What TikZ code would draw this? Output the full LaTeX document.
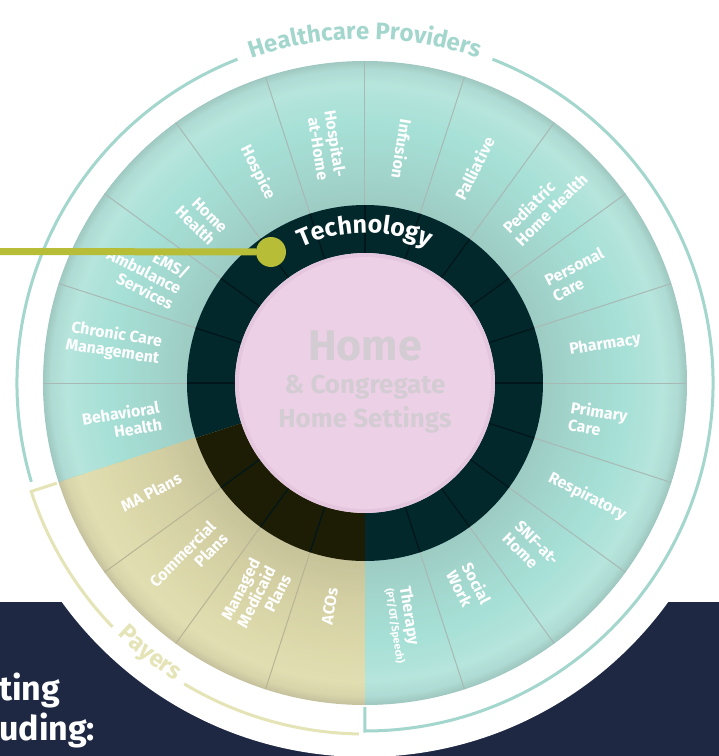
\documentclass[tikz,border=0pt]{standalone}
\usepackage{fontspec}
\setmainfont{Fira Sans}
\usetikzlibrary{decorations.text}
\definecolor{navyc}{HTML}{1F2843}
\definecolor{hpc}{HTML}{A3D6CC}
\definecolor{payc}{HTML}{E4E4B6}
\definecolor{ringdark}{HTML}{02282C}
\definecolor{ringpay}{HTML}{1C1D04}
\definecolor{ringline}{HTML}{00161A}
\definecolor{pinkc}{HTML}{ECD0E6}
\definecolor{pinkedge}{HTML}{E4C6DE}
\definecolor{hometext}{HTML}{D4CCD3}
\definecolor{olivec}{HTML}{B7BD37}
\definecolor{divc}{HTML}{A8B9B5}
\definecolor{divpay}{HTML}{B8B494}
\definecolor{tA}{HTML}{9DCBC3}
\definecolor{tB}{HTML}{A2D6CD}
\definecolor{tC}{HTML}{A6E0D6}
\definecolor{tD}{HTML}{B6E5DC}
\definecolor{tE}{HTML}{AEDBD3}
\definecolor{tF}{HTML}{9FC8C1}
\definecolor{pA}{HTML}{C6C299}
\definecolor{pB}{HTML}{D2CEA2}
\definecolor{pC}{HTML}{DAD7A9}
\definecolor{pD}{HTML}{E1DEB2}
\definecolor{pE}{HTML}{D8D5AA}
\definecolor{pF}{HTML}{C6C29E}
% concentric gradient: outer radius, inner radius, outer colour, inner colour
\newcommand{\gradring}[4]{%
  \foreach \i in {0,...,14}{%
    \pgfmathsetmacro{\rr}{#1-\i*(#1-#2)/14}%
    \pgfmathsetmacro{\pp}{100-\i*100/14}%
    \fill[#3!\pp!#4] (0,0) circle (\rr);}}
\tikzset{
  lab/.style={text=white, font=\bfseries\fontsize{16}{17.5}\selectfont, inner sep=0pt},
  rlab/.style={lab, anchor=west, align=left},
  llab/.style={lab, anchor=east, align=right},
  hometxt/.style={text=hometext, anchor=base, inner sep=0pt},
  bracket/.style={line width=3pt},
  corner/.style={text=white, anchor=base west, inner sep=0pt, font=\bfseries\fontsize{34}{40}\selectfont}
}
\begin{document}
\begin{tikzpicture}[x=1pt,y=1pt]
\useasboundingbox (-365,-373) rectangle (354,383);
\fill[white] (-365,-373) rectangle (354,383);
% navy band with white cut-out
\fill[navyc] (-365,-219) rectangle (354,-373);
\fill[white] (0,0) circle (374);
\node[corner] (c1) at (-366,-317) {ting};
\node[corner] (c2) at (-366,-357) {uding:};
% outer ring
\begin{scope}
  \clip (0,0) -- (-90:340) arc[start angle=-90, end angle=198, radius=340] -- cycle;
  \gradring{322}{314}{tF}{tE}
  \gradring{314}{300}{tE}{tD}
  \gradring{300}{260}{tD}{tC}
  \gradring{260}{215}{tC}{tB}
  \gradring{215}{178}{tB}{tA}
\end{scope}
\begin{scope}
  \clip (0,0) -- (198:340) arc[start angle=198, end angle=270, radius=340] -- cycle;
  \gradring{322}{314}{pF}{pE}
  \gradring{314}{300}{pE}{pD}
  \gradring{300}{260}{pD}{pC}
  \gradring{260}{215}{pC}{pB}
  \gradring{215}{178}{pB}{pA}
\end{scope}
\foreach \a in {-72,-54,...,180} \draw[divc, line width=1pt] (\a:178) -- (\a:322);
\foreach \a in {216,234,252} \draw[divpay, line width=1pt] (\a:178) -- (\a:322);
% dark ring
\fill[ringdark] (-90:178) arc[start angle=-90, end angle=198, radius=178] -- (198:130) arc[start angle=198, end angle=-90, radius=130] -- cycle;
\fill[ringpay] (198:178) arc[start angle=198, end angle=270, radius=178] -- (270:130) arc[start angle=270, end angle=198, radius=130] -- cycle;
\foreach \a in {-72,-54,...,180,216,234,252} \draw[ringline, line width=1.2pt] (\a:130) -- (\a:178);
% centre
\fill[pinkedge] (0,0) circle (130);
\fill[pinkc] (0,0) circle (126);
\node[hometxt, font=\bfseries\fontsize{43}{43}\selectfont] (h1) at (0,23) {Home};
\node[hometxt, font=\bfseries\fontsize{26}{26}\selectfont] (h2) at (0,-10) {\& Congregate};
\node[hometxt, font=\bfseries\fontsize{26}{26}\selectfont] (h3) at (0,-44) {Home Settings};
% provider labels
\node[rlab, rotate=-81] (l1) at (-81:207) {Therapy\\[-3pt]{\fontsize{10.5}{11}\selectfont(PT/OT/Speech)}};
\node[rlab, rotate=-63] (l2) at (-63:207) {Social\\Work};
\node[rlab, rotate=-45] (l3) at (-45:207) {SNF-at-\\Home};
\node[rlab, rotate=-27] (l4) at (-27:207) {Respiratory};
\node[rlab, rotate=-9] (l5) at (-9:207) {Primary\\Care};
\node[rlab, rotate=9] (l6) at (9:207) {Pharmacy};
\node[rlab, rotate=27] (l7) at (27:207) {Personal\\Care};
\node[rlab, rotate=45] (l8) at (45:207) {Pediatric\\Home Health};
\node[rlab, rotate=63] (l9) at (63:207) {Palliative};
\node[llab, rotate=-99] (l10) at (81:207) {Infusion};
\node[llab, rotate=-81] (l11) at (99:207) {Hospital-\\at-Home};
\node[llab, rotate=-63] (l12) at (117:207) {Hospice};
\node[llab, rotate=-45] (l13) at (135:207) {Home\\Health};
\node[llab, rotate=-27] (l14) at (153:207) {EMS/\\Ambulance\\Services};
\node[llab, rotate=-9] (l15) at (171:207) {Chronic Care\\Management};
\node[llab, rotate=9] (l16) at (189:207) {Behavioral\\Health};
% payer labels
\node[llab, rotate=27] (p1) at (207:207) {MA Plans};
\node[llab, rotate=45] (p2) at (225:207) {Commercial\\Plans};
\node[llab, rotate=63] (p3) at (243:207) {Managed\\Medicaid\\Plans};
\node[llab, rotate=81] (p4) at (261:207) {ACOs};
% technology
\path[decorate, decoration={text along path, text align=center, text color=white, text={|\bfseries\fontsize{25}{25}\selectfont|Technology}}] (130:150) arc[start angle=130, end angle=50, radius=150];
% brackets
\draw[hpc, bracket] (196.5:348) arc[start angle=196.5, end angle=111.5, radius=348];
\draw[hpc, bracket] (68.5:348) arc[start angle=68.5, end angle=-90, radius=348] -- (-90:324);
\path[decorate, decoration={text along path, text align=center, text color=hpc, text={|\bfseries\fontsize{24}{24}\selectfont|Healthcare Providers}}] (125:344) arc[start angle=125, end angle=55, radius=344];
\draw[payc, bracket] (198:324) -- (198:351) arc[start angle=198, end angle=224, radius=351];
\draw[payc, bracket] (239:351) arc[start angle=239, end angle=269, radius=351];
\path[decorate, decoration={text along path, text align=center, text color=payc, text={|\bfseries\fontsize{24}{24}\selectfont|Payers}}] (215:353) arc[start angle=215, end angle=248, radius=353];
% technology pointer
\node[circle, fill=olivec, minimum size=30pt, inner sep=0pt] (dot) at (-94,131) {};
\coordinate (lstart) at (-366,131.5);
\draw[olivec, line width=7pt] (lstart) -- (dot);
\end{tikzpicture}
\end{document}
